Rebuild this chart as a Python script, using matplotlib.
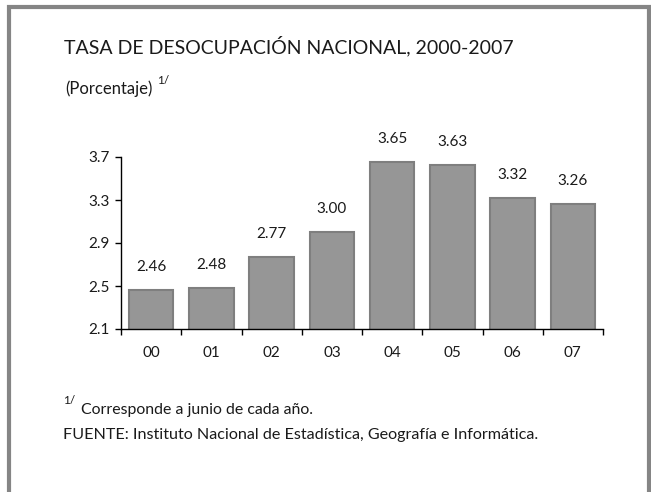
import matplotlib
matplotlib.use("Agg")
import matplotlib.pyplot as plt
from matplotlib.patches import Rectangle

categories = ["00", "01", "02", "03", "04", "05", "06", "07"]
values = [2.46, 2.48, 2.77, 3.00, 3.65, 3.63, 3.32, 3.26]
value_labels = ["2.46", "2.48", "2.77", "3.00", "3.65", "3.63", "3.32", "3.26"]
yticks = [2.1, 2.5, 2.9, 3.3, 3.7]
ytick_labels = ["2.1", "2.5", "2.9", "3.3", "3.7"]

title = "TASA DE DESOCUPACIÓN NACIONAL, 2000-2007"
subtitle = "(Porcentaje)"
note_mark = "1/"
note = "Corresponde a junio de cada año."
source = "FUENTE: Instituto Nacional de Estadística, Geografía e Informática."

plt.rcParams['font.family'] = ['Lato', 'DejaVu Sans']
txt = "#1a1a1a"

W, H = 651, 492
fig = plt.figure(figsize=(W / 100, H / 100), dpi=100)

# outer frame (bottom edge runs off the image)
left_px, right_px, top_px = 9.0, 648.5, 7.0
fig.patches.append(Rectangle((left_px / W, -0.1), (right_px - left_px) / W,
                             (1 - top_px / H) + 0.1,
                             transform=fig.transFigure, fill=False,
                             edgecolor="#858585", linewidth=3.0))

ax = fig.add_axes([121 / W, 1 - 329 / H, (603 - 121) / W, (329 - 157) / H])
x = list(range(len(categories)))
ax.bar(x, values, width=0.74, bottom=0, color="#969696", edgecolor="#7f7f7f", linewidth=1.5, zorder=2)
ax.set_xlim(-0.5, len(categories) - 0.5)
ax.set_ylim(yticks[0], yticks[-1])
ax.set_yticks(yticks)
ax.set_yticklabels(ytick_labels)
ax.set_xticks(x)
ax.set_xticklabels(categories)
ax.set_xticks([i - 0.5 for i in range(len(categories) + 1)], minor=True)
ax.tick_params(axis="x", which="major", length=0, pad=12, labelsize=11, labelcolor=txt)
ax.tick_params(axis="x", which="minor", length=4, width=1, color="#000000", direction="out")
ax.tick_params(axis="y", length=4, width=1, color="#000000", pad=4, labelsize=11, labelcolor=txt)
for s in ["top", "right"]:
    ax.spines[s].set_visible(False)
for s in ["left", "bottom"]:
    ax.spines[s].set_linewidth(1.0)
    ax.spines[s].set_color("#000000")

for xi, v, lab in zip(x, values, value_labels):
    ax.annotate(lab, (xi, v), xytext=(0, 23), textcoords="offset pixels",
                ha="center", va="center", fontsize=11, color=txt, annotation_clip=False)

fig.text(64 / W, 1 - 46 / H, title, fontsize=14, color=txt, ha="left", va="center")
fig.text(65 / W, 1 - 89 / H, subtitle, fontsize=12, color=txt, ha="left", va="center")
fig.text(157 / W, 1 - 80 / H, note_mark, fontsize=8.5, color=txt, ha="left", va="center")
fig.text(63 / W, 1 - 400 / H, note_mark, fontsize=8.5, color=txt, ha="left", va="center")
fig.text(81 / W, 1 - 410 / H, note, fontsize=11.4, color=txt, ha="left", va="center")
fig.text(63 / W, 1 - 435 / H, source, fontsize=11.6, color=txt, ha="left", va="center")

fig.savefig("out.png", dpi=100, facecolor="white")
